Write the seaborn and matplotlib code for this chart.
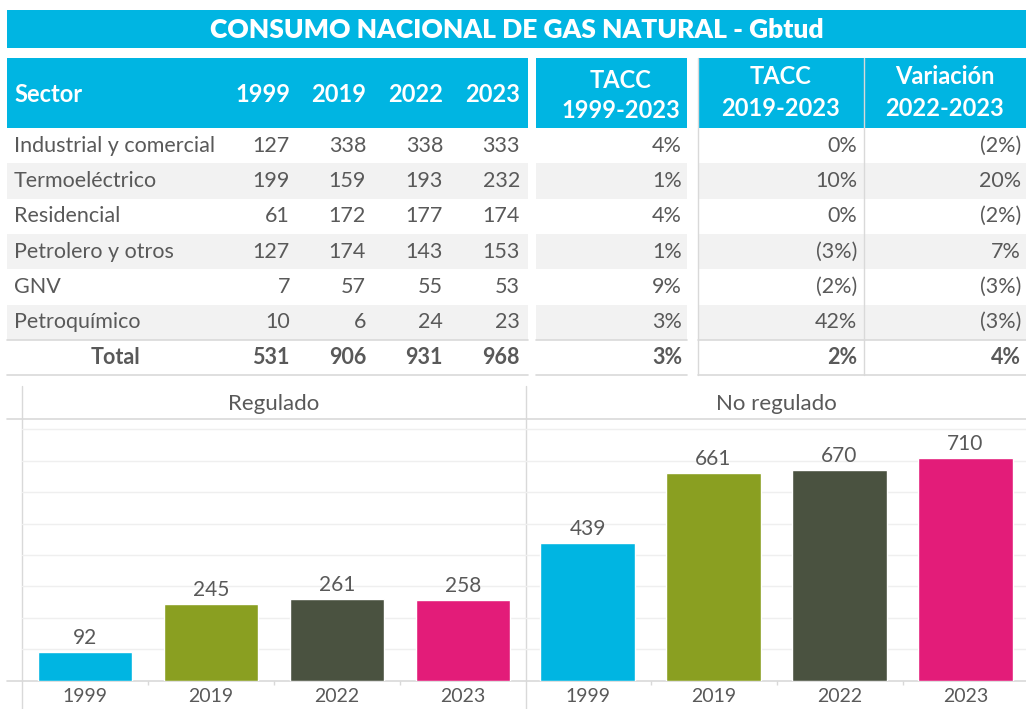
import numpy as np
import pandas as pd
import matplotlib
matplotlib.use('Agg')
import matplotlib.pyplot as plt
import seaborn as sns
from matplotlib.patches import Rectangle

# Datos de la tabla
sectores = ['Industrial y comercial', 'Termoeléctrico', 'Residencial',
            'Petrolero y otros', 'GNV', 'Petroquímico']
anios = ['1999', '2019', '2022', '2023']
v1999 = [127, 199, 61, 127, 7, 10]
v2019 = [338, 159, 172, 174, 57, 6]
v2022 = [338, 193, 177, 143, 55, 24]
v2023 = [333, 232, 174, 153, 53, 23]
totales = [531, 906, 931, 968]
tacc_99_23 = ['4%', '1%', '4%', '1%', '9%', '3%']
tacc_19_23 = ['0%', '10%', '0%', '(3%)', '(2%)', '42%']
var_22_23 = ['(2%)', '20%', '(2%)', '7%', '(3%)', '(3%)']
total_pct = ['3%', '2%', '4%']

# Datos de las barras
regulado = [92, 245, 261, 258]
no_regulado = [439, 661, 670, 710]

colores = ['#00B5E2', '#8A9F21', '#4A5240', '#E31C79']
cian = '#00B5E2'
gris_txt = '#595959'
gris_fondo = '#F2F2F2'
gris_linea = '#D9D9D9'

sns.set_theme(style='white')
plt.rcParams['font.family'] = ['Lato', 'DejaVu Sans']

W, H = 1026, 709
fig = plt.figure(figsize=(W / 100, H / 100), dpi=100)

# Capa de la tabla en coordenadas de pixel
tab = fig.add_axes([0, 0, 1, 1])
tab.set_xlim(0, W)
tab.set_ylim(H, 0)
tab.axis('off')

# Barra del titulo
tab.add_patch(Rectangle((7, 10), W - 7, 38, color=cian, lw=0))
tab.text(517, 30, 'CONSUMO NACIONAL DE GAS NATURAL - Gbtud', color='white',
         fontsize=19, fontweight='heavy', ha='center', va='center')

# Encabezados
tab.add_patch(Rectangle((7, 58), 521, 70, color=cian, lw=0))
tab.add_patch(Rectangle((536, 58), 151, 70, color=cian, lw=0))
tab.add_patch(Rectangle((698, 58), W - 698, 70, color=cian, lw=0))

col_x = [290, 366, 443, 520]
fs = 15.5
fh = 17
tab.text(14, 94, 'Sector', color='white', fontsize=fh, fontweight='bold', va='center')
for x, a in zip(col_x, anios):
    tab.text(x, 94, a, color='white', fontsize=fh, fontweight='bold', va='center', ha='right')
tab.text(621, 80, 'TACC', color='white', fontsize=fh, fontweight='bold', va='center', ha='center')
tab.text(621, 111, '1999-2023', color='white', fontsize=fh, fontweight='bold', va='center', ha='center')
tab.text(781, 77, 'TACC', color='white', fontsize=fh, fontweight='bold', va='center', ha='center')
tab.text(781, 108, '2019-2023', color='white', fontsize=fh, fontweight='bold', va='center', ha='center')
tab.text(945, 77, 'Variación', color='white', fontsize=fh, fontweight='bold', va='center', ha='center')
tab.text(945, 108, '2022-2023', color='white', fontsize=fh, fontweight='bold', va='center', ha='center')

# Filas
row_h = 35.3
y0 = 128
valores = list(zip(v1999, v2019, v2022, v2023))
for i, s in enumerate(sectores):
    top = y0 + i * row_h
    cy = top + row_h / 2
    if i % 2 == 1:
        for (xa, wa) in [(7, 521), (536, 151), (698, W - 698)]:
            tab.add_patch(Rectangle((xa, top), wa, row_h, color=gris_fondo, lw=0))
    tab.text(14, cy, s, color=gris_txt, fontsize=fs, va='center')
    for x, v in zip(col_x, valores[i]):
        tab.text(x, cy, str(v), color=gris_txt, fontsize=fs, va='center', ha='right')
    tab.text(682, cy, tacc_99_23[i], color=gris_txt, fontsize=fs, va='center', ha='right')
    tab.text(857, cy, tacc_19_23[i], color=gris_txt, fontsize=fs, va='center', ha='right')
    tab.text(1021, cy, var_22_23[i], color=gris_txt, fontsize=fs, va='center', ha='right')

# Fila total
top = y0 + 6 * row_h
cy = top + row_h / 2
tab.text(140, cy, 'Total', color=gris_txt, fontsize=fs, fontweight='bold', va='center', ha='right')
for x, v in zip(col_x, totales):
    tab.text(x, cy, str(v), color=gris_txt, fontsize=fs, fontweight='bold', va='center', ha='right')
for x, v in zip([682, 857, 1021], total_pct):
    tab.text(x, cy, v, color=gris_txt, fontsize=fs, fontweight='bold', va='center', ha='right')
for (xa, xb) in [(7, 528), (536, 687), (698, W)]:
    tab.plot([xa, xb], [top, top], color=gris_linea, lw=1.2)
    tab.plot([xa, xb], [top + row_h, top + row_h], color=gris_linea, lw=1.2)
for x in [698, 864]:
    tab.plot([x, x], [58, top + row_h], color=gris_linea, lw=1)

# Graficos de barras
base_y = 680.7
top_y = 419
escala = 251.4 / 800
ymax = (base_y - top_y) / escala
paneles = [('Regulado', regulado, 22), ('No regulado', no_regulado, 524.5)]
for titulo, vals, x_izq in paneles:
    ax = fig.add_axes([x_izq / W, (H - base_y) / H, 504 / W, (base_y - top_y) / H])
    df = pd.DataFrame({'anio': anios, 'valor': vals})
    sns.barplot(data=df, x='anio', y='valor', hue='anio', palette=colores,
                legend=False, width=0.75, saturation=1, ax=ax)
    ax.set_ylim(0, ymax)
    ax.set_xlim(-0.5, 3.5)
    ax.set_yticks(np.arange(100, 900, 100))
    ax.yaxis.grid(True, color='#EFEFEF', lw=1)
    ax.set_axisbelow(True)
    ax.tick_params(axis='y', left=False, labelleft=False)
    ax.tick_params(axis='x', length=0, labelsize=14, labelcolor=gris_txt, pad=5)
    ax.set_xticks([0.5, 1.5, 2.5], minor=True)
    ax.tick_params(axis='x', which='minor', length=3, color=gris_linea, bottom=True)
    ax.set_xlabel('')
    ax.set_ylabel('')
    for sp in ax.spines.values():
        sp.set_visible(False)
    ax.patch.set_alpha(0)
    for i, v in enumerate(vals):
        ax.text(i, v + 12, str(v), ha='center', va='bottom', fontsize=15, color=gris_txt)
    tab.text(x_izq + 252, 404, titulo, ha='center', va='center', fontsize=16, color=gris_txt)

# Lineas del marco del grafico
tab.plot([7, W], [top_y, top_y], color=gris_linea, lw=1.2, zorder=5)
tab.plot([7, W], [base_y, base_y], color=gris_linea, lw=1.2, zorder=5)
for x in [22, 526]:
    tab.plot([x, x], [386, H], color=gris_linea, lw=1, zorder=5)

fig.savefig('out.png', dpi=100)
